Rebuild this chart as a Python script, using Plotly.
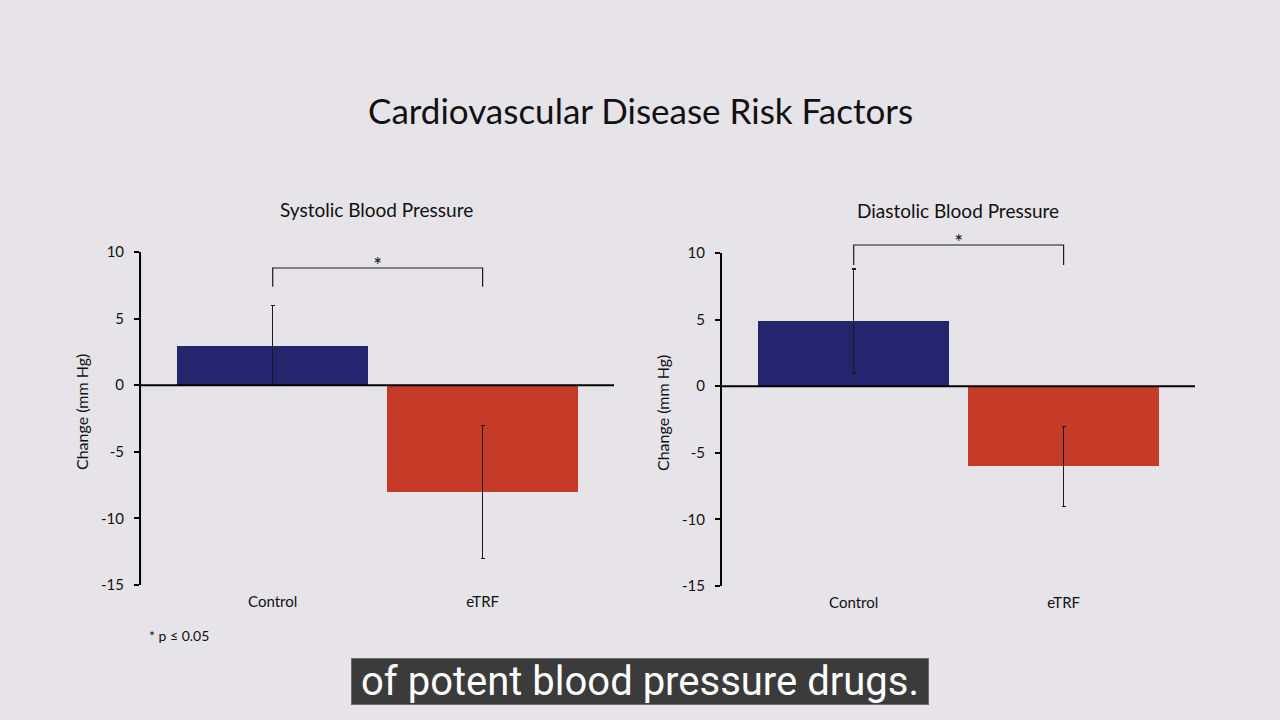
import plotly.graph_objects as go
from plotly.subplots import make_subplots

# data
groups = ["Control", "eTRF"]
systolic_change = [3.0, -8.0]
systolic_err = [3.0, 5.0]
diastolic_change = [4.9, -6.0]
diastolic_err = [3.9, 3.0]

# significance brackets (x = category index, y = mm Hg)
bracket_x = [0, 0, 1, 1]
systolic_bracket_y = [7.4, 8.8, 8.8, 7.4]
diastolic_bracket_y = [9.1, 10.6, 10.6, 9.1]

y_ticks = [-15, -10, -5, 0, 5, 10]
y_tick_text = ["-15", "-10", "-5", "0", "5", "10"]
y_axis_span = [-15, 10]

bar_colors = ["#25256f", "#c63a28"]
font_name = "Lato"
ink = "#111111"

fig = make_subplots(rows=1, cols=2)

panels = [
    (systolic_change, systolic_err, systolic_bracket_y, 1),
    (diastolic_change, diastolic_err, diastolic_bracket_y, 2),
]
for values, errs, bracket_y, col in panels:
    fig.add_trace(
        go.Bar(x=[0, 1], y=values, width=0.91,
               marker=dict(color=bar_colors, line=dict(width=0)),
               error_y=dict(type="data", array=errs, visible=True,
                            color="#1a1a1a", thickness=1.2, width=2),
               showlegend=False),
        row=1, col=col,
    )
    fig.add_trace(
        go.Scatter(x=bracket_x, y=bracket_y, mode="lines",
                   line=dict(color="#1a1a1a", width=1.2), cliponaxis=False,
                   showlegend=False, hoverinfo="skip"),
        row=1, col=col,
    )
    # significance star just above the bracket (the glyph sits high in its box)
    fig.add_trace(
        go.Scatter(x=[0.5], y=[bracket_y[1]], mode="text", text=["*"],
                   textposition="middle center", cliponaxis=False,
                   textfont=dict(family=font_name, size=21, color=ink),
                   showlegend=False, hoverinfo="skip"),
        row=1, col=col,
    )

axis_font = dict(family=font_name, size=15, color=ink)

# y range goes one unit above 10 so the brackets fit; the axis line is drawn
# separately and stops at 10 like the original
for col, xdom, ydom in [(1, [0.1094, 0.4797], [0.1875, 0.6685]),
                        (2, [0.5633, 0.9336], [0.186, 0.6671])]:
    fig.update_xaxes(domain=xdom, range=[-0.632, 1.626], tickvals=[0, 1],
                     ticktext=groups, showline=False, showgrid=False,
                     zeroline=False, ticks="", tickfont=axis_font,
                     ticklabelstandoff=6, automargin=False, row=1, col=col)
    fig.update_yaxes(domain=ydom, range=[-15, 11], tickvals=y_ticks,
                     ticktext=y_tick_text, showline=False,
                     ticks="outside", ticklen=5, tickwidth=2, tickcolor="black",
                     showgrid=False, zeroline=False, tickfont=axis_font,
                     ticklabelstandoff=7,
                     title=dict(text="Change (mm Hg)",
                                font=dict(family=font_name, size=16, color=ink),
                                standoff=8),
                     automargin=False, row=1, col=col)

for xr, yr in [("x domain", "y"), ("x2 domain", "y2")]:
    # zero line
    fig.add_shape(type="line", xref=xr, yref=yr, x0=0, x1=1, y0=0, y1=0,
                  line=dict(color="black", width=2), layer="above")
    # y axis line
    fig.add_shape(type="line", xref=xr, yref=yr, x0=0, x1=0,
                  y0=y_axis_span[0], y1=y_axis_span[1],
                  line=dict(color="black", width=2), layer="above")

annotations = [
    dict(text="Cardiovascular Disease Risk Factors", x=0.5, y=0.847,
         xref="paper", yref="paper", xanchor="center", yanchor="middle",
         showarrow=False, font=dict(family=font_name, size=35, color=ink)),
    dict(text="Systolic Blood Pressure", x=0.2945, y=0.709,
         xref="paper", yref="paper", xanchor="center", yanchor="middle",
         showarrow=False, font=dict(family=font_name, size=19, color=ink)),
    dict(text="Diastolic Blood Pressure", x=0.7484, y=0.708,
         xref="paper", yref="paper", xanchor="center", yanchor="middle",
         showarrow=False, font=dict(family=font_name, size=19, color=ink)),
    dict(text="* p ≤ 0.05", x=0.1145, y=0.117, xref="paper", yref="paper",
         xanchor="left", yanchor="middle", showarrow=False,
         font=dict(family=font_name, size=14, color=ink)),
    dict(text="of potent blood pressure drugs.", x=0.5, y=0.054,
         xref="paper", yref="paper", xanchor="center", yanchor="middle",
         showarrow=False, width=576, height=45,
         font=dict(family="Roboto", size=40, color="white"),
         bgcolor="#3b3b3b", bordercolor="#6a6a6a", borderwidth=1, borderpad=0),
]

fig.update_layout(
    width=1280, height=720,
    margin=dict(l=0, r=0, t=0, b=0, pad=0, autoexpand=False),
    paper_bgcolor="#e6e3e9",
    plot_bgcolor="rgba(0,0,0,0)",
    font=dict(family=font_name, color=ink),
    annotations=annotations,
    bargap=0,
)

fig.write_html("out.html", config={"displayModeBar": False},
               post_script="document.body.style.margin='0px';")
